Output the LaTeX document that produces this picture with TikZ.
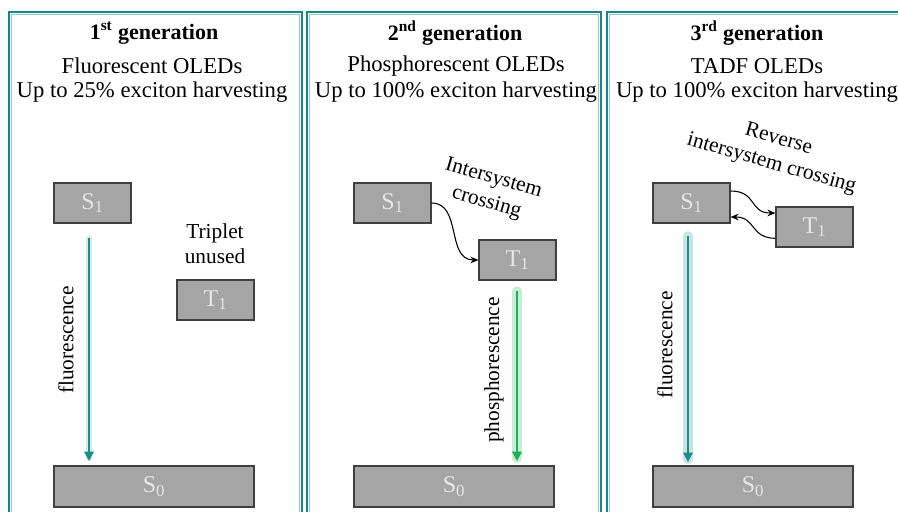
\documentclass[tikz,border=0pt]{standalone}
\usepackage{fontspec}
\setmainfont{Liberation Serif}
\usetikzlibrary{arrows.meta}
\definecolor{panelteal}{HTML}{14878A}
\definecolor{boxfill}{HTML}{A5A5A5}
\definecolor{boxline}{HTML}{3F3F3F}
\definecolor{boxtext}{HTML}{E6E6E6}
\definecolor{fluor}{HTML}{1B8C8C}
\definecolor{phos}{HTML}{1DB055}
\begin{document}
\begin{tikzpicture}[x=0.75pt,y=-0.75pt,
  panel/.style={draw=panelteal,line width=2.2pt},
  panelin/.style={draw=panelteal!45,line width=0.5pt},
  level/.style={draw=boxline,fill=boxfill,line width=0.9pt,text=boxtext,
    minimum width=57.75pt,minimum height=30pt,inner sep=0pt,font=\fontsize{18}{20}\selectfont},
  ground/.style={level,minimum width=150pt,minimum height=30.75pt},
  head/.style={font=\fontsize{16.5}{19}\selectfont\bfseries,inner sep=0pt},
  sub/.style={font=\fontsize{17}{19}\selectfont,inner sep=0pt},
  lab/.style={font=\fontsize{16}{19}\selectfont,inner sep=0pt,align=center},
  isc/.style={draw=black,line width=0.8pt,-{Stealth[length=6pt,width=5pt]}},
  emit/.style={line width=1.6pt,-{Triangle[length=7pt,width=7pt]}},
  glow/.style={line width=7pt,opacity=0.35,line cap=round}
]
\useasboundingbox (0,0) rectangle (898,511);
% panels
\draw[panel] (9,530) -- (9,12) -- (302,12) -- (302,530);
\draw[panel] (307,530) -- (307,12) -- (601,12) -- (601,530);
\draw[panel] (607,530) -- (607,12) -- (910,12);
\draw[panelin] (11.5,530) -- (11.5,14.5) -- (299.5,14.5) -- (299.5,530);
\draw[panelin] (309.5,530) -- (309.5,14.5) -- (598.5,14.5) -- (598.5,530);
\draw[panelin] (609.5,530) -- (609.5,14.5) -- (910,14.5);

% headers
\node[head] (h1) at (154,33) {1\textsuperscript{st} generation};
\node[sub] (f1) at (152,66) {Fluorescent OLEDs};
\node[sub] (u1) at (152,92) {Up to 25\% exciton harvesting};
\node[head] (h2) at (455,33) {2\textsuperscript{nd} generation};
\node[sub] (f2) at (456,66) {Phosphorescent OLEDs};
\node[sub] (u2) at (456,92) {Up to 100\% exciton harvesting};
\node[head] (h3) at (757,33) {3\textsuperscript{rd} generation};
\node[sub] (f3) at (757,66) {TADF OLEDs};
\node[sub] (u3) at (757,92) {Up to 100\% exciton harvesting};

% panel 1
\node[level] (s1a) at (92.5,203) {S\textsubscript{1}};
\node[level] (t1a) at (215.5,300) {T\textsubscript{1}};
\node[ground] (s0a) at (154,486.5) {S\textsubscript{0}};
\node[lab] (trip) at (215,244) {Triplet\\unused};
\coordinate (a1s) at (89,238);
\coordinate (a1e) at (89,461);
\draw[fluor!60,glow,line width=4pt,opacity=0.3] (a1s) -- ([yshift=2pt]a1e);
\draw[emit,fluor] (a1s) -- (a1e);
\node[lab,rotate=90] (fl1) at (66,340) {fluorescence};

% panel 2
\node[level] (s1b) at (392.5,203) {S\textsubscript{1}};
\node[level] (t1b) at (517.5,260) {T\textsubscript{1}};
\node[ground] (s0b) at (454,486.5) {S\textsubscript{0}};
\draw[isc] (s1b.east) .. controls (462,203) and (446,260) .. (t1b.west);
\node[lab,rotate=-16] (iscl) at (490,191) {Intersystem\\crossing};
\coordinate (a2s) at (517,291);
\coordinate (a2e) at (517,461);
\draw[phos!70,glow] (a2s) -- ([yshift=2pt]a2e);
\draw[emit,phos] (a2s) -- (a2e);
\node[lab,rotate=90] (ph) at (494,370) {phosphorescence};

% panel 3
\node[level] (s1c) at (691.5,203) {S\textsubscript{1}};
\node[level] (t1c) at (814.5,227) {T\textsubscript{1}};
\node[ground] (s0c) at (753,486.5) {S\textsubscript{0}};
\draw[isc] ([yshift=9pt]s1c.east) .. controls (757,191) and (749,213) .. ([yshift=10.5pt]t1c.west);
\draw[isc] ([yshift=-8.5pt]t1c.west) .. controls (750,238) and (756,217) .. ([yshift=-10.5pt]s1c.east);
\node[lab,rotate=-16] (risc) at (775,152) {Reverse\\intersystem crossing};
\coordinate (a3s) at (688,236);
\coordinate (a3e) at (688,462);
\draw[fluor!70,glow] (a3s) -- ([yshift=2pt]a3e);
\draw[emit,fluor] (a3s) -- (a3e);
\node[lab,rotate=90] (fl3) at (665,345) {fluorescence};
\end{tikzpicture}
\end{document}
